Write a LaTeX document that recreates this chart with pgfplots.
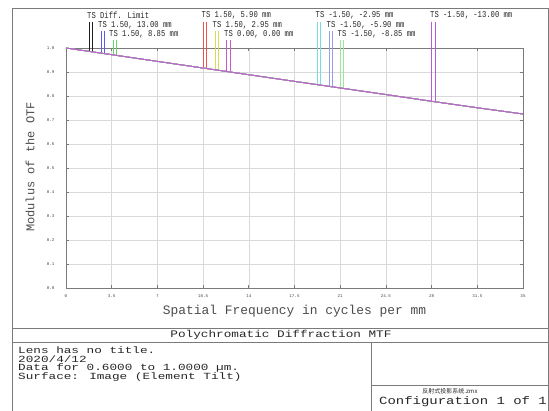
\documentclass[border=0pt]{standalone}
\usepackage{pgfplots}
\pgfplotsset{compat=1.18}
\usepackage{fontspec}
\setmainfont{Liberation Mono}
\newfontfamily\cjk{Noto Sans CJK SC}

% field colours
\definecolor{cDiff}{HTML}{202020}
\definecolor{cA}{HTML}{5A5AF0}
\definecolor{cB}{HTML}{66D866}
\definecolor{cC}{HTML}{F05050}
\definecolor{cD}{HTML}{DADA50}
\definecolor{cE}{HTML}{CC5ACC}
\definecolor{cF}{HTML}{7CDCE6}
\definecolor{cG}{HTML}{9C9CEC}
\definecolor{cH}{HTML}{9CE69C}
\definecolor{cCurve}{HTML}{B868C8}
\definecolor{frame}{HTML}{7A7A7A}

% MTF curve (all fields practically coincide with the diffraction limit)
\pgfplotstableread{
x    y
0    1.0000
3.5  0.9722
7    0.9443
10.5 0.9165
14   0.8887
17.5 0.8610
21   0.8335
24.5 0.8060
28   0.7780
31.5 0.7510
35   0.7250
}\mtf

\newcommand{\legtext}[1]{\scalebox{0.8}[1]{\fontsize{9}{9}\selectfont #1}}
\newcommand{\wide}[3]{\scalebox{#1}[1]{\fontsize{#2}{#2}\selectfont #3}}

\begin{document}
\begin{tikzpicture}
\useasboundingbox (0pt,0pt) rectangle (549pt,-410pt);

% outer frame and text block
\draw[frame, line width=0.8pt] (12pt,-8.5pt) rectangle (548pt,-415pt);
\draw[frame, line width=0.8pt] (12pt,-328pt) -- (548pt,-328pt);
\draw[frame, line width=0.8pt] (12pt,-342pt) -- (548pt,-342pt);
\draw[frame, line width=0.8pt] (371pt,-342pt) -- (371pt,-415pt);
\draw[frame, line width=0.8pt] (371pt,-385pt) -- (548pt,-385pt);

\node[inner sep=0pt, text=black!85] at (281pt,-335pt) {\wide{1.27}{10}{Polychromatic Diffraction MTF}};
\begin{scope}[every node/.style={anchor=west, inner sep=0pt, text=black!85}]
\node at (18pt,-350pt) {\wide{1.35}{9.4}{Lens has no title.}};
\node at (18pt,-359pt) {\wide{1.35}{9.4}{2020/4/12}};
\node at (18pt,-368pt) {\wide{1.35}{9.4}{Data for 0.6000 to 1.0000 µm.}};
\node at (18pt,-377pt) {\wide{1.35}{9.4}{Surface: Image (Element Tilt)}};
\end{scope}
\node[font=\cjk\fontsize{6}{6}\selectfont, text=black!85] at (450pt,-391.5pt) {反射式投影系统.zmx};
\node[inner sep=0pt, text=black!85] at (463pt,-401.5pt) {\wide{1.27}{11}{Configuration 1 of 1}};

% y axis title
\node[rotate=90, font=\fontsize{12}{12}\selectfont, text=black!70] at (30pt,-167pt) {Modulus of the OTF};

% legend labels
\begin{scope}[every node/.style={anchor=west, inner sep=0pt, text=black!85}]
\node at (87pt,-15.5pt) {\legtext{TS Diff. Limit}};
\node at (98pt,-25pt) {\legtext{TS 1.50, 13.00 mm}};
\node at (109pt,-34.5pt) {\legtext{TS 1.50, 8.85 mm}};
\node at (201.5pt,-15.5pt) {\legtext{TS 1.50, 5.90 mm}};
\node at (212.5pt,-25pt) {\legtext{TS 1.50, 2.95 mm}};
\node at (224pt,-34.5pt) {\legtext{TS 0.00, 0.00 mm}};
\node at (315.5pt,-15.5pt) {\legtext{TS -1.50, -2.95 mm}};
\node at (326.5pt,-25pt) {\legtext{TS -1.50, -5.90 mm}};
\node at (337.5pt,-34.5pt) {\legtext{TS -1.50, -8.85 mm}};
\node at (430pt,-15.5pt) {\legtext{TS -1.50, -13.00 mm}};
\end{scope}

\begin{axis}[
  at={(66pt,-288pt)}, anchor=south west,
  scale only axis, width=457pt, height=240pt,
  xmin=0, xmax=35, ymin=0, ymax=1,
  clip=false,
  axis line style={frame, line width=0.9pt},
  xtick={0,3.5,7,10.5,14,17.5,21,24.5,28,31.5,35},
  xticklabels={0,3.5,7,10.5,14,17.5,21,24.5,28,31.5,35},
  ytick={0,0.1,0.2,0.3,0.4,0.5,0.6,0.7,0.8,0.9,1},
  yticklabels={0.0,0.1,0.2,0.3,0.4,0.5,0.6,0.7,0.8,0.9,1.0},
  tick align=inside, major tick length=3pt,
  tick style={frame, line width=0.8pt},
  grid=major, major grid style={black!15, line width=0.6pt},
  ticklabel style={font=\fontsize{4.2}{4.2}\selectfont, text=black!75},
  xticklabel style={yshift=-3pt},
  yticklabel style={xshift=-8pt},
  /pgf/number format/assume math mode=true,
  xlabel={Spatial Frequency in cycles per mm},
  xlabel style={font=\fontsize{12.9}{13}\selectfont, text=black!70, at={(axis description cs:0.5,0)}, yshift=-14pt},
]
% legend ticks: T and S line for each field, dropped onto the curve
\addplot[cDiff, line width=0.6pt] coordinates {(1.78,1.108) (1.78,0.9858)};
\addplot[cDiff, line width=0.6pt] coordinates {(2.04,1.108) (2.04,0.9838)};
\addplot[cA, line width=0.6pt] coordinates {(2.68,1.071) (2.68,0.9787)};
\addplot[cA, line width=0.6pt] coordinates {(2.93,1.071) (2.93,0.9767)};
\addplot[cB, line width=0.6pt] coordinates {(3.62,1.032) (3.62,0.9712)};
\addplot[cB, line width=0.6pt] coordinates {(3.83,1.032) (3.83,0.9695)};
\addplot[cC, line width=0.6pt] coordinates {(10.52,1.108) (10.52,0.9163)};
\addplot[cC, line width=0.6pt] coordinates {(10.78,1.108) (10.78,0.9142)};
\addplot[cD, line width=0.6pt] coordinates {(11.43,1.071) (11.43,0.9091)};
\addplot[cD, line width=0.6pt] coordinates {(11.69,1.071) (11.69,0.9070)};
\addplot[cE, line width=0.6pt] coordinates {(12.31,1.032) (12.31,0.9021)};
\addplot[cE, line width=0.6pt] coordinates {(12.56,1.032) (12.56,0.9001)};
\addplot[cF, line width=0.6pt] coordinates {(19.25,1.108) (19.25,0.8474)};
\addplot[cF, line width=0.6pt] coordinates {(19.51,1.108) (19.51,0.8455)};
\addplot[cG, line width=0.6pt] coordinates {(20.17,1.071) (20.17,0.8403)};
\addplot[cG, line width=0.6pt] coordinates {(20.40,1.071) (20.40,0.8385)};
\addplot[cH, line width=0.6pt] coordinates {(20.98,1.032) (20.98,0.8340)};
\addplot[cH, line width=0.6pt] coordinates {(21.24,1.032) (21.24,0.8319)};
\addplot[color={rgb,255:red,180;green,90;blue,220}, line width=0.7pt] coordinates {(28.01,1.108) (28.01,0.7782)};
\addplot[color={rgb,255:red,180;green,90;blue,220}, line width=0.7pt] coordinates {(28.26,1.108) (28.26,0.7762)};

% MTF curves, drawn in field order; the last one lies on top
\addplot[cDiff, line width=0.8pt] table {\mtf};
\addplot[cA, line width=0.8pt] table {\mtf};
\addplot[cB, line width=0.8pt] table {\mtf};
\addplot[cC, line width=0.8pt] table {\mtf};
\addplot[cD, line width=0.8pt] table {\mtf};
\addplot[cF, line width=0.8pt] table {\mtf};
\addplot[cG, line width=0.8pt] table {\mtf};
\addplot[cH, line width=0.8pt] table {\mtf};
\addplot[cE, line width=0.8pt] table {\mtf};
\addplot[cCurve, line width=0.8pt] table {\mtf};
\end{axis}
\end{tikzpicture}
\end{document}
